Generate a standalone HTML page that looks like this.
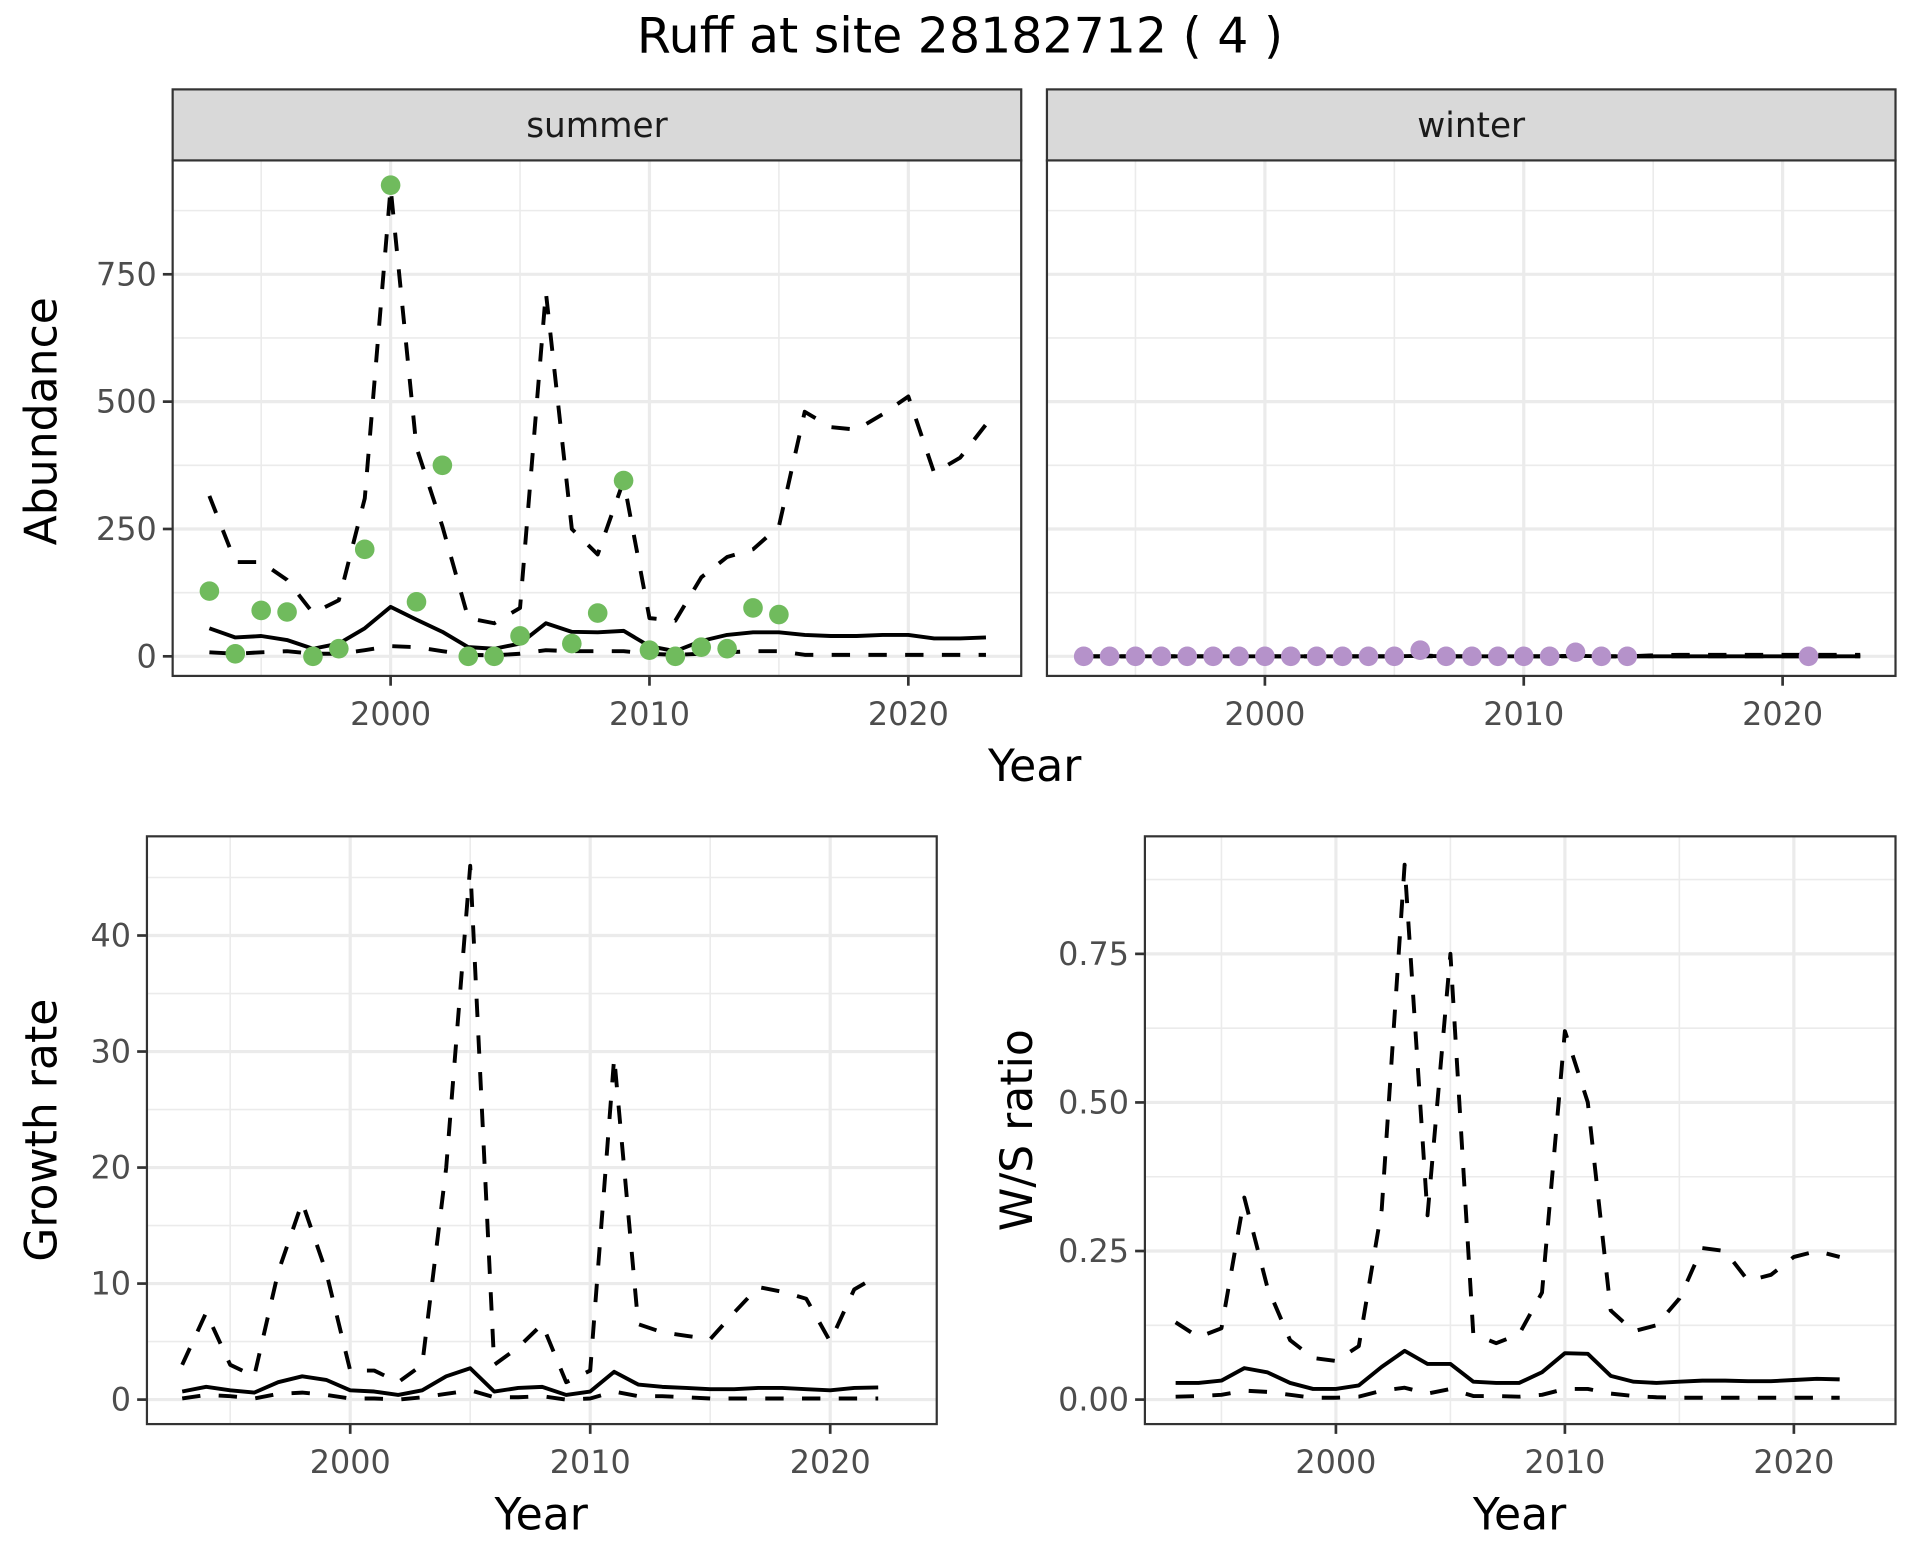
<!DOCTYPE html>
<html><head><meta charset="utf-8"><style>
html,body{margin:0;padding:0;background:#fff;}
svg{display:block;font-family:"DejaVu Sans","Liberation Sans",sans-serif;}
</style></head><body>
<svg id="chart" width="1920" height="1560" viewBox="0 0 1568 1274" xmlns="http://www.w3.org/2000/svg">
<rect x="0" y="0" width="1568" height="1274" fill="#fff"/>
<text x="784" y="43" font-size="40" text-anchor="middle" fill="#000">Ruff at site 28182712 ( 4 )</text>
<g id="layer"></g>
</svg>
<script>
// ---- data ----
const yearsAll = [1993,1994,1995,1996,1997,1998,1999,2000,2001,2002,2003,2004,2005,2006,2007,2008,2009,2010,2011,2012,2013,2014,2015,2016,2017,2018,2019,2020,2021,2022,2023];
const summerPtYears = [1993,1994,1995,1996,1997,1998,1999,2000,2001,2002,2003,2004,2005,2007,2008,2009,2010,2011,2012,2013,2014,2015];
const summerPtVals = [128,5,90,87,0,15,210,925,107,375,0,0,40,25,85,345,12,0,18,15,95,82];
const summerUpper = [315,185,185,150,85,110,310,920,410,255,75,65,95,715,250,200,345,75,70,155,195,210,255,480,450,445,475,510,360,390,455];
const summerMean = [55,37,40,32,15,25,55,97,72,48,18,15,25,65,48,47,50,20,10,30,42,47,47,42,40,40,42,42,35,35,37];
const summerLower = [8,5,8,10,5,5,12,20,18,10,3,2,5,12,10,10,10,5,3,5,8,10,10,3,3,3,3,3,3,3,3];
const winterPtYears = [1993,1994,1995,1996,1997,1998,1999,2000,2001,2002,2003,2004,2005,2006,2007,2008,2009,2010,2011,2012,2013,2014,2021];
const winterPtVals = [0,0,0,0,0,0,0,0,0,0,0,0,0,12,0,0,0,0,0,8,0,0,0];
const winterUpper = [0,0,0,0,0,0,0,0,0,0,0,0,0,2,0,0,0,0,0,1,0,0,2,3,3,3,3,3,3,3,3];
const winterMean = [0,0,0,0,0,0,0,0,0,0,0,0,0,1,0,0,0,0,0,1,0,0,0,0,0,0,0,0,0,0,0];
const winterLower = [0,0,0,0,0,0,0,0,0,0,0,0,0,0,0,0,0,0,0,0,0,0,0,0,0,0,0,0,0,0,0];
const yearsRate = [1993,1994,1995,1996,1997,1998,1999,2000,2001,2002,2003,2004,2005,2006,2007,2008,2009,2010,2011,2012,2013,2014,2015,2016,2017,2018,2019,2020,2021,2022];
const growthUpper = [3,7.5,3,2,11,17,11,2.5,2.5,1.5,3,20,46,3,4.5,6.5,1.5,2.5,29.5,6.5,5.8,5.5,5.2,7.5,9.7,9.3,8.7,5,9.5,10.7];
const growthMean = [0.7,1.1,0.8,0.6,1.5,2,1.7,0.8,0.7,0.4,0.8,2,2.7,0.7,1,1.1,0.4,0.7,2.4,1.3,1.1,1,0.9,0.9,1,1,0.9,0.8,1,1.05];
const growthLower = [0.1,0.4,0.3,0.1,0.5,0.6,0.4,0.1,0.1,0,0.2,0.5,0.8,0.2,0.2,0.3,0,0.1,0.7,0.3,0.3,0.2,0.1,0.1,0.1,0.1,0.1,0.1,0.1,0.1];
const wsUpper = [0.13,0.105,0.12,0.34,0.19,0.1,0.07,0.065,0.09,0.32,0.9,0.31,0.75,0.11,0.095,0.11,0.18,0.62,0.5,0.15,0.115,0.125,0.17,0.255,0.25,0.2,0.21,0.24,0.25,0.24];
const wsMean = [0.028,0.028,0.032,0.053,0.046,0.028,0.018,0.018,0.024,0.055,0.082,0.06,0.06,0.03,0.028,0.028,0.046,0.078,0.077,0.04,0.03,0.028,0.03,0.032,0.032,0.031,0.031,0.033,0.035,0.034];
const wsLower = [0.005,0.006,0.008,0.015,0.013,0.008,0.003,0.003,0.005,0.015,0.02,0.01,0.018,0.006,0.006,0.005,0.008,0.018,0.018,0.01,0.006,0.004,0.003,0.003,0.003,0.003,0.003,0.003,0.003,0.003];
const abundTicks = [0,250,500,750];
const abundTickLabels = ["0","250","500","750"];
const growthTicks = [0,10,20,30,40];
const growthTickLabels = ["0","10","20","30","40"];
const wsTicks = [0,0.25,0.5,0.75];
const wsTickLabels = ["0.00","0.25","0.50","0.75"];
const xTicks = [2000,2010,2020];
const xTickLabels = ["2000","2010","2020"];

const NS = "http://www.w3.org/2000/svg";
const layer = document.getElementById('layer');
function mk(tag, attrs, parent) {
  const e = document.createElementNS(NS, tag);
  for (const k in attrs) e.setAttribute(k, attrs[k]);
  (parent || layer).appendChild(e);
  return e;
}
function linear(d0, d1, r0, r1) { return v => r0 + (v - d0) * (r1 - r0) / (d1 - d0); }

function panel(o) {
  const g = mk('g', {});
  
  
  const x = o.x, y = o.y;
  o.xMinor.forEach(v => { const l = mk('line', {x1:x(v),x2:x(v),y1:o.top,y2:o.bottom,stroke:'#EBEBEB','stroke-width':1.3}, g);   });
  o.yMinor.forEach(v => { const l = mk('line', {x1:o.left,x2:o.right,y1:y(v),y2:y(v),stroke:'#EBEBEB','stroke-width':1.3}, g);   });
  xTicks.forEach(v => { const l = mk('line', {x1:x(v),x2:x(v),y1:o.top,y2:o.bottom,stroke:'#EBEBEB','stroke-width':2.6}, g);   });
  o.yTicks.forEach(v => { const l = mk('line', {x1:o.left,x2:o.right,y1:y(v),y2:y(v),stroke:'#EBEBEB','stroke-width':2.6}, g);   });
  const series = [[o.upper,'15,15','upper-bound-line'],[o.mean,null,'mean-line'],[o.lower,'15,15','lower-bound-line']];
  series.forEach(s => {
    const pts = o.years.map((yr,i) => x(yr).toFixed(1)+','+y(s[0][i]).toFixed(1)).join(' ');
    const a = {points:pts,fill:'none',stroke:'#000','stroke-width':3.2,'stroke-linejoin':'round'};
    if (s[1]) a['stroke-dasharray'] = s[1];
    const p = mk('polyline', a, g);
    
    
  });
  if (o.ptYears) {
    o.ptYears.forEach((yr,i) => {
      const c = mk('circle', {cx:x(yr),cy:y(o.ptVals[i]),r:8,fill:o.ptColor}, g);
      
      
    });
  }
  const b = mk('rect', {x:o.left,y:o.top,width:o.right-o.left,height:o.bottom-o.top,fill:'none',stroke:'#333','stroke-width':1.8}, g);
  
  
  xTicks.forEach((v,i) => {
    const t = mk('line', {x1:x(v),x2:x(v),y1:o.bottom,y2:o.bottom+8,stroke:'#333','stroke-width':2.2}, g);
     
    const tx = mk('text', {x:x(v),y:o.bottom+40,'font-size':26,'text-anchor':'middle',fill:'#4D4D4D'}, g);
    tx.textContent = xTickLabels[i];
     
  });
  if (o.yLabels) {
    o.yTicks.forEach((v,i) => {
      const t = mk('line', {x1:o.left-8,x2:o.left,y1:y(v),y2:y(v),stroke:'#333','stroke-width':2.2}, g);
       
      const tx = mk('text', {x:o.left-13,y:y(v)+9,'font-size':26,'text-anchor':'end',fill:'#4D4D4D'}, g);
      tx.textContent = o.yLabels[i];
       
    });
  }
  if (o.strip) {
    const s = mk('rect', {x:o.left,y:o.top-58,width:o.right-o.left,height:58,fill:'#D9D9D9',stroke:'#333','stroke-width':1.8}, g);
     
    const st = mk('text', {x:(o.left+o.right)/2,y:o.top-19,'font-size':28,'text-anchor':'middle',fill:'#1A1A1A'}, g);
    st.textContent = o.strip;
     
  }
}

const xS = linear(2000, 2020, 319, 741.8);
const yA = linear(0, 750, 536, 224);
panel({name:'summer-panel',left:141,right:834,top:131,bottom:552,x:xS,y:yA,xMinor:[1995,2005,2015],yMinor:[125,375,625,875],yTicks:abundTicks,yLabels:abundTickLabels,years:yearsAll,upper:summerUpper,mean:summerMean,lower:summerLower,ptYears:summerPtYears,ptVals:summerPtVals,ptColor:'#70BB5D',strip:'summer'});
const xW = linear(2000, 2020, 1033, 1455.8);
panel({name:'winter-panel',left:855,right:1548,top:131,bottom:552,x:xW,y:yA,xMinor:[1995,2005,2015],yMinor:[125,375,625,875],yTicks:abundTicks,yLabels:null,years:yearsAll,upper:winterUpper,mean:winterMean,lower:winterLower,ptYears:winterPtYears,ptVals:winterPtVals,ptColor:'#B592CA',strip:'winter'});
const xG = linear(2000, 2020, 286, 678);
const yG = linear(0, 40, 1143, 764);
panel({name:'growth-rate-panel',left:120,right:765,top:683,bottom:1163,x:xG,y:yG,xMinor:[1995,2005,2015],yMinor:[5,15,25,35,45],yTicks:growthTicks,yLabels:growthTickLabels,years:yearsRate,upper:growthUpper,mean:growthMean,lower:growthLower});
const xR = linear(2000, 2020, 1091, 1465);
const yR = linear(0, 0.75, 1143, 779);
panel({name:'ws-ratio-panel',left:935,right:1548,top:683,bottom:1163,x:xR,y:yR,xMinor:[1995,2005,2015],yMinor:[0.125,0.375,0.625,0.875],yTicks:wsTicks,yLabels:wsTickLabels,years:yearsRate,upper:wsUpper,mean:wsMean,lower:wsLower});

function label(txt, x, y, rot, name) {
  const t = mk('text', {x:x,y:y,'font-size':36,'text-anchor':'middle',fill:'#000'});
  if (rot) t.setAttribute('transform','rotate(-90 '+x+' '+y+')');
  t.textContent = txt;
  
  
}
label('Year', 845, 638, false, 'x-axis-title-top');
label('Abundance', 46, 344, true, 'y-axis-title-abundance');
label('Year', 442, 1249, false, 'x-axis-title-growth');
label('Growth rate', 46, 923, true, 'y-axis-title-growth');
label('Year', 1241, 1249, false, 'x-axis-title-ws');
label('W/S ratio', 843, 923, true, 'y-axis-title-ws');
</script>
</body></html>
